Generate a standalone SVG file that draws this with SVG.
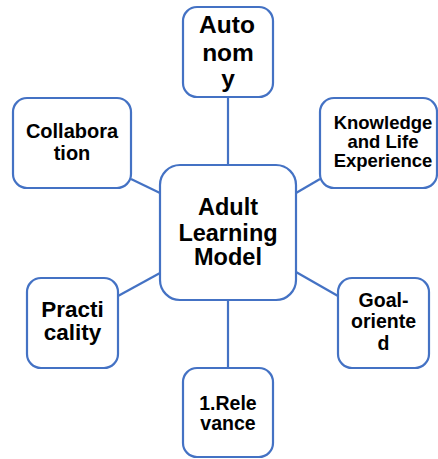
<svg xmlns="http://www.w3.org/2000/svg" width="438" height="459" viewBox="0 0 438 459">
<style>
.box{fill:#fff;stroke:#4472C4;stroke-width:2.2}
.c{stroke:#4472C4;stroke-width:2.2;fill:none}
text{font-family:"Liberation Sans",Arial,sans-serif;font-weight:bold;fill:#000;text-anchor:middle}
</style>
<rect width="438" height="459" fill="#fff"/>
<g id="connectors">
<line class="c" x1="228" y1="97" x2="228" y2="165"/>
<line class="c" x1="228" y1="300" x2="228" y2="368"/>
<line class="c" x1="131" y1="179" x2="160" y2="193"/>
<line class="c" x1="320" y1="179" x2="296" y2="193"/>
<line class="c" x1="118" y1="296" x2="160" y2="273"/>
<line class="c" x1="296" y1="272" x2="338" y2="296"/>
</g>
<g id="center">
<rect class="box" x="160" y="165" width="136" height="135" rx="20"/>
<text font-size="23.5"><tspan x="228" y="215">Adult</tspan><tspan x="228" y="241">Learning</tspan><tspan x="228" y="265">Model</tspan></text>
</g>
<g id="autonomy">
<rect class="box" x="183" y="7" width="90" height="90" rx="14"/>
<text font-size="24.5"><tspan x="227" y="33">Auto</tspan><tspan x="228" y="61">nom</tspan><tspan x="228" y="87">y</tspan></text>
</g>
<g id="collaboration">
<rect class="box" x="13" y="98" width="118" height="90" rx="14"/>
<text font-size="20"><tspan x="72" y="138">Collabora</tspan><tspan x="72" y="160">tion</tspan></text>
</g>
<g id="knowledge">
<rect class="box" x="320" y="98" width="117" height="90" rx="14"/>
<text font-size="18.5"><tspan x="383" y="129">Knowledge</tspan><tspan x="383" y="148">and Life</tspan><tspan x="383" y="167">Experience</tspan></text>
</g>
<g id="practicality">
<rect class="box" x="27" y="278" width="91" height="90" rx="14"/>
<text font-size="22.5"><tspan x="72.5" y="317">Practi</tspan><tspan x="72.5" y="340">cality</tspan></text>
</g>
<g id="goal">
<rect class="box" x="338" y="278" width="91" height="90" rx="14"/>
<text font-size="19.5"><tspan x="383.5" y="307">Goal-</tspan><tspan x="383.5" y="328">oriente</tspan><tspan x="383.5" y="350">d</tspan></text>
</g>
<g id="relevance">
<rect class="box" x="183" y="368" width="90" height="89" rx="14"/>
<text font-size="19.5"><tspan x="228" y="410">1.Rele</tspan><tspan x="228" y="430">vance</tspan></text>
</g>
</svg>
